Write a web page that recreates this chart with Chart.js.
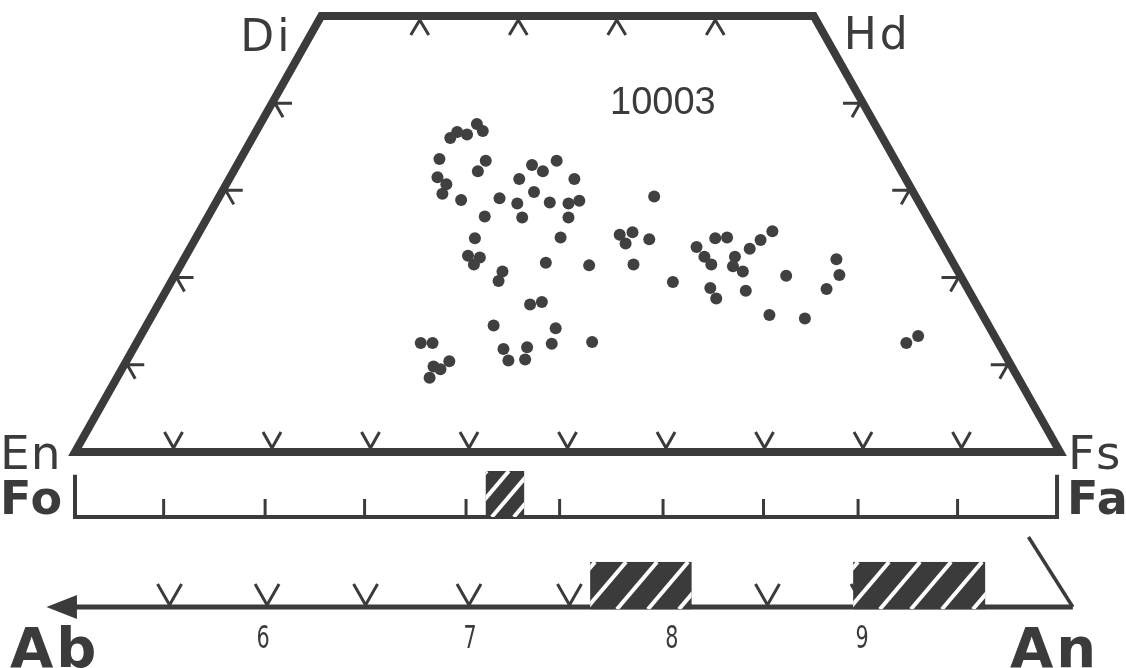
<!DOCTYPE html>
<html>
<head>
<meta charset="utf-8">
<script src="https://cdn.jsdelivr.net/npm/chart.js@4.4.1/dist/chart.umd.min.js"></script>
<style>
  html, body { margin: 0; padding: 0; background: #ffffff; }
  #wrap { width: 1126px; height: 668px; }
</style>
</head>
<body>
<div id="wrap"><canvas id="c" width="1126" height="668"></canvas></div>
<script>
// ---- Data (horizontal position along En–Fs in %, vertical = Wo %) ----
const pyxX = [38.1,38.8,39.8,40.8,41.4,37.0,41.7,40.9,36.8,37.7,37.3,39.2,46.4,47.5,48.9,45.1,50.7,46.6,43.1,44.9,
              48.2,50.1,51.2,41.6,45.4,50.1,40.6,49.3,39.9,41.1,40.5,47.8,52.2,43.4,43.0,46.2,47.4,42.5,48.8,35.1,
              36.3,43.5,45.9,48.4,52.5,36.4,37.1,38.0,36.0,44.0,45.7,58.8,55.3,56.6,55.9,58.3,56.7,60.7,63.1,63.9,
              64.6,65.0,66.2,67.0,66.8,67.8,68.5,69.6,70.8,64.5,65.1,68.1,70.5,72.2,74.1,76.3,77.3,77.6,84.4,85.6];
const pyxWo = [36.0,36.7,36.4,37.6,36.8,33.6,33.4,32.2,31.5,30.7,29.6,28.9,32.9,32.2,33.4,31.3,31.3,29.8,29.1,28.5,
               28.6,28.5,28.8,27.0,26.9,26.9,24.5,24.6,22.5,22.3,21.5,21.7,21.4,20.7,19.6,16.9,17.2,14.5,14.2,12.5,
               12.5,11.8,12.0,12.4,12.6,9.8,9.5,10.4,8.5,10.5,10.6,29.3,24.9,25.2,23.9,24.4,21.5,19.5,23.5,22.4,
               21.5,24.5,24.6,22.4,21.3,20.7,23.3,24.3,25.3,18.8,17.6,18.5,15.7,20.2,15.3,18.7,22.1,20.3,12.5,13.3];

// Pyroxene quadrilateral corners & ticks
const cornerLabels = ['En', 'Di', 'Hd', 'Fs'];
const bottomTicks = [10, 20, 30, 40, 50, 60, 70, 80, 90];
const topTicks = [35, 45, 55, 65];
const sideTicksWo = [10, 20, 30, 40];
const sampleLabel = '10003';

// Olivine (Fo–Fa) scale
const olivineLabels = ['Fo', 'Fa'];
const olivineTicks = [9.0, 19.3, 29.4, 39.7, 49.2, 59.7, 69.9, 79.5, 89.6];
const olivineRange = [[41.7, 45.6]];

// Plagioclase (Ab–An) scale
const plagLabels = ['Ab', 'An'];
const plagTicks = [9.6, 19.5, 29.5, 40.0, 50.2, 60.0, 70.3, 80.0, 90.0];
const plagTickLabels = ['6', '7', '8', '9'];
const plagTickPos = [19.1, 40.1, 60.6, 79.9];
const plagRanges = [[52.3, 62.6], [79.0, 92.4]];

const INK = '#3b3b3b';

const diagram = {
  id: 'diagram',
  beforeDatasetsDraw(chart) {
    const ctx = chart.ctx;
    const sx = v => chart.scales.x.getPixelForValue(v);
    const sy = v => chart.scales.y.getPixelForValue(v);
    ctx.save();
    ctx.strokeStyle = INK;
    ctx.fillStyle = INK;
    ctx.lineCap = 'butt';

    // quadrilateral
    ctx.lineWidth = 8;
    ctx.lineJoin = 'miter';
    ctx.miterLimit = 10;
    ctx.beginPath();
    ctx.moveTo(sx(0), sy(0));
    ctx.lineTo(sx(25), sy(50));
    ctx.lineTo(sx(75), sy(50));
    ctx.lineTo(sx(100), sy(0));
    ctx.closePath();
    ctx.stroke();

    const vtick = (x0, y0, pts) => {
      ctx.beginPath();
      ctx.moveTo(x0 + pts[0][0], y0 + pts[0][1]);
      ctx.lineTo(x0, y0);
      ctx.lineTo(x0 + pts[1][0], y0 + pts[1][1]);
      ctx.stroke();
    };
    ctx.lineWidth = 3;
    ctx.lineJoin = 'round';
    bottomTicks.forEach(v => vtick(sx(v), sy(0) - 4, [[-9, -16], [9, -16]]));
    topTicks.forEach(v => vtick(sx(v), sy(50) + 4, [[-9, 15], [9, 15]]));
    sideTicksWo.forEach(w => {
      vtick(sx(w / 2) + 3, sy(w), [[17, 0], [8, 14]]);
      vtick(sx(100 - w / 2) - 3, sy(w), [[-17, 0], [-8, 14]]);
    });

    // hatched box helper
    const hatch = (x1, x2, yTop, yBot, gap, off) => {
      const L = sx(x1), R = sx(x2), T = sy(yTop), B = sy(yBot);
      ctx.save();
      ctx.fillStyle = INK;
      ctx.fillRect(L, T, R - L, B - T);
      ctx.beginPath();
      ctx.rect(L, T, R - L, B - T);
      ctx.clip();
      ctx.strokeStyle = '#ffffff';
      ctx.lineWidth = 4;
      const h = B - T;
      for (let x = L - h + off; x < R + h; x += gap) {
        ctx.beginPath();
        ctx.moveTo(x, B);
        ctx.lineTo(x + h * 0.85, T);
        ctx.stroke();
      }
      ctx.restore();
    };

    // Olivine scale
    const yo = -7.45;
    ctx.lineWidth = 4;
    ctx.lineJoin = 'miter';
    ctx.beginPath();
    ctx.moveTo(sx(0), sy(-2.6));
    ctx.lineTo(sx(0), sy(yo));
    ctx.lineTo(sx(99.7), sy(yo));
    ctx.lineTo(sx(99.7), sy(-2.6));
    ctx.stroke();
    ctx.lineWidth = 3;
    olivineTicks.forEach(v => {
      ctx.beginPath();
      ctx.moveTo(sx(v), sy(yo));
      ctx.lineTo(sx(v), sy(yo) - 18);
      ctx.stroke();
    });
    olivineRange.forEach(r => hatch(r[0], r[1], -2.18, yo, 22, 8));

    // Plagioclase scale
    const yp = -17.78;
    ctx.lineWidth = 5;
    ctx.beginPath();
    ctx.moveTo(sx(0), sy(yp));
    ctx.lineTo(sx(101.3), sy(yp));
    ctx.stroke();
    ctx.lineWidth = 3.5;
    ctx.beginPath();
    ctx.moveTo(sx(101.3), sy(yp));
    ctx.lineTo(sx(96.8), sy(-9.75));
    ctx.stroke();
    // arrow head
    ctx.beginPath();
    ctx.moveTo(sx(-2.9), sy(yp));
    ctx.lineTo(sx(0.2), sy(yp) - 12);
    ctx.lineTo(sx(0.2), sy(yp) + 12);
    ctx.closePath();
    ctx.fill();
    ctx.lineWidth = 3;
    plagTicks.forEach(v => vtick(sx(v), sy(yp) - 2, [[-12, -21], [12, -21]]));
    plagRanges.forEach(r => hatch(r[0], r[1], -12.61, yp - 0.25, 31, 12));

    ctx.restore();
  },
  afterDatasetsDraw(chart) {
    const ctx = chart.ctx;
    const sx = v => chart.scales.x.getPixelForValue(v);
    const sy = v => chart.scales.y.getPixelForValue(v);
    ctx.save();
    ctx.fillStyle = INK;
    ctx.textBaseline = 'alphabetic';
    ctx.textAlign = 'left';
    ctx.letterSpacing = '3px';
    ctx.font = '44px "DejaVu Sans", "Open Sans", sans-serif';
    ctx.fillText(cornerLabels[1], sx(25) - 81, sy(50) + 35);
    ctx.fillText(cornerLabels[2], sx(75) + 30, sy(50) + 33);
    ctx.letterSpacing = '1px';
    ctx.font = '47px "DejaVu Sans", "Open Sans", sans-serif';
    ctx.fillText(cornerLabels[0], sx(0) - 75, sy(0) + 17);
    ctx.fillText(cornerLabels[3], sx(100) + 8, sy(0) + 17);
    ctx.letterSpacing = '1px';
    ctx.font = 'bold 46px "DejaVu Sans", "Open Sans", sans-serif';
    ctx.fillText(olivineLabels[0], sx(0) - 75, sy(-7.45) - 3);
    ctx.fillText(olivineLabels[1], sx(99.7) + 10, sy(-7.45) - 3);
    ctx.letterSpacing = '3px';
    ctx.font = 'bold 56px "DejaVu Sans", "Open Sans", sans-serif';
    ctx.fillText(plagLabels[0], 10, 667);
    ctx.fillText(plagLabels[1], 1010, 667);
    ctx.letterSpacing = '0px';
    ctx.font = '38px "Liberation Sans", Arial, sans-serif';
    ctx.fillText(sampleLabel, 610, 114);
    // narrow tick numbers
    ctx.textAlign = 'center';
    ctx.font = '32px "Liberation Sans Narrow", "DejaVu Sans Condensed", sans-serif';
    plagTickLabels.forEach((t, i) => {
      ctx.save();
      ctx.translate(sx(plagTickPos[i]), 648);
      ctx.scale(0.72, 1);
      ctx.fillText(t, 0, 0);
      ctx.restore();
    });
    ctx.restore();
  }
};

new Chart(document.getElementById('c'), {
  type: 'scatter',
  data: {
    datasets: [{
      label: '10003',
      data: pyxX.map((x, i) => ({ x: x, y: pyxWo[i] })),
      pointRadius: 6,
      pointHoverRadius: 6,
      backgroundColor: '#404040',
      borderWidth: 0
    }]
  },
  options: {
    responsive: false,
    animation: false,
    events: [],
    layout: { padding: 0, autoPadding: false },
    plugins: { legend: { display: false }, tooltip: { enabled: false } },
    scales: {
      x: { type: 'linear', display: false, min: -7.614, max: 106.70 },
      y: { type: 'linear', display: false, min: -24.77, max: 51.83 }
    }
  },
  plugins: [diagram]
});
</script>
</body>
</html>
